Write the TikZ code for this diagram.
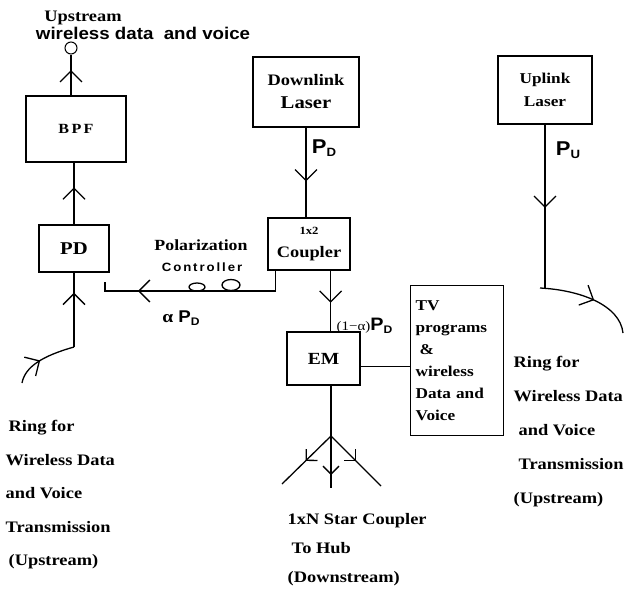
\documentclass[tikz,border=0pt]{standalone}
\usepackage{fontspec}
\setmainfont{Liberation Serif}[FakeStretch=1.15]
\newfontfamily\sfb{Liberation Sans}[FakeStretch=1.1]
\usetikzlibrary{arrows.meta,decorations.markings}
\newcommand\fsz[2]{\fontsize{#1}{#2}\selectfont}
\newcommand\Pw[3]{{\sfb\bfseries\fsz{#1}{#1}P\raisebox{-3pt}{\fsz{#2}{#2}#3}}}
\begin{document}
\begin{tikzpicture}[x=1pt,y=-1pt,line width=1.3pt,font=\bfseries,
  blk/.style={draw,inner sep=0pt,align=center},
  midarr/.style={postaction={decorate},decoration={markings,mark=at position #1 with {\arrow{Straight Barb[length=11pt,width=22pt]}}}},
  smallarr/.style={postaction={decorate},decoration={markings,mark=at position #1 with {\arrow{Straight Barb[length=8pt,width=16pt]}}}}]
  \useasboundingbox (0,0) rectangle (634,592);
  \node[font=\bfseries\fsz{16}{16}] (upl) at (83,18) {Upstream};
  \node[anchor=west,font=\sfb\bfseries\fsz{17}{17}] (wdv) at (32,33) {wireless data\ \ and voice};
  \node[draw,circle,minimum size=12pt,inner sep=0pt,line width=1pt] (cir) at (71,48) {};
  \node[blk,minimum width=100pt,minimum height=66pt,font=\bfseries\fsz{14}{14}] (bpf) at (76,129) {B\,P\,F};
  \node[blk,minimum width=70pt,minimum height=47pt,font=\bfseries\fsz{18}{18}] (pd) at (74,248.5) {PD};
  \node[blk,minimum width=106pt,minimum height=70pt,font=\bfseries\fsz{16}{23}] (dl) at (306,92) {Downlink\\{\fsz{18}{23}Laser}};
  \node[blk,minimum width=94pt,minimum height=68pt,font=\bfseries\fsz{15}{23}] (ul) at (545,90) {Uplink\\Laser};
  \node[blk,minimum width=82pt,minimum height=52pt,font=\bfseries\fsz{16}{23}] (cp) at (309,244) {{\fsz{11}{23}1x2}\\Coupler};
  \node[blk,minimum width=73pt,minimum height=53pt,font=\bfseries\fsz{17}{17}] (em) at (323.5,358.5) {EM};
  \node[blk,anchor=north west,align=left,text width=83pt,inner xsep=5pt,inner ysep=14pt,minimum height=150pt,font=\bfseries\fsz{15}{22}] (tv) at (410,285) {TV\\programs\\\hspace*{4pt}\&\\wireless\\Data and\\Voice};
  \node (pdd) at (324,148) {\Pw{20}{12}{D}};
  \node (pu) at (568,150) {\Pw{20}{12}{U}};
  \node[font=\bfseries\fsz{15.5}{16}] (pol) at (201,245) {Polarization};
  \node[font=\sfb\bfseries\fsz{12}{12}\addfontfeature{LetterSpace=16}] (ctl) at (202,267) {Controller};
  \node (apd) at (181,318) {\fsz{17}{17}α\ \Pw{17}{11}{D}};
  \node[anchor=west,inner sep=0pt] (apd2) at (336,326) {\mdseries\fsz{13}{13}(1−α)\Pw{18}{11}{D}};
  \node[anchor=north west,align=left,inner sep=0pt,font=\bfseries\fsz{16}{33.5}] (ringl) at (5,420) {\hspace*{3pt}Ring for\\Wireless Data\\and Voice\\Transmission\\\hspace*{3pt}(Upstream)};
  \node[anchor=north west,align=left,inner sep=0pt,font=\bfseries\fsz{16}{34}] (ringr) at (513,356) {Ring for\\Wireless Data\\\hspace*{5pt}and Voice\\\hspace*{5pt}Transmission\\(Upstream)};
  \node[anchor=north west,align=left,inner sep=0pt,font=\bfseries\fsz{16}{29}] (star) at (287,513) {1xN Star Coupler\\\hspace*{4pt}To Hub\\(Downstream)};
  \draw[midarr=0.62] (bpf.north -| cir.south) -- (cir.south);
  \draw[midarr=0.6] (pd.north) -- (pd.north |- bpf.south);
  \coordinate (jl) at (74,347);
  \coordinate (rl) at (22,383);
  \draw[midarr=0.73] (jl) -- (pd.south);
  \draw[midarr=0.45] (rl) .. controls (25,367) and (42,356) .. (jl);
  \draw[midarr=0.6] (dl.south) -- (dl.south |- cp.north);
  \coordinate (pc) at (105,291);
  \draw[midarr=0.79] ([xshift=8pt]cp.south west) |- (pc) -- ++(0,-9);
  \draw (197,287) ellipse [x radius=8,y radius=4];
  \draw (231,285) ellipse [x radius=9,y radius=5.5];
  \coordinate (cpo) at ([xshift=-20pt]cp.south east);
  \draw[midarr=0.53] (cpo) -- (cpo |- em.north);
  \coordinate (emr) at ([yshift=-8pt]em.east);
  \draw (emr) -- (emr -| tv.west);
  \coordinate (sj) at (331,436);
  \coordinate (s1) at (282,484);
  \coordinate (s2) at (331,488);
  \coordinate (s3) at (381,486);
  \draw (sj |- em.south) -- (sj);
  \draw[smallarr=0.52] (sj) -- (s1);
  \draw[smallarr=0.75] (sj) -- (s2);
  \draw[smallarr=0.5] (sj) -- (s3);
  \coordinate (jr) at (545,288);
  \coordinate (rr) at (623,333);
  \draw[midarr=0.51] (ul.south) -- (jr);
  \draw[midarr=0.55] ([xshift=-5pt]jr) .. controls (580,290) and (620,305) .. (rr);
\end{tikzpicture}
\end{document}
